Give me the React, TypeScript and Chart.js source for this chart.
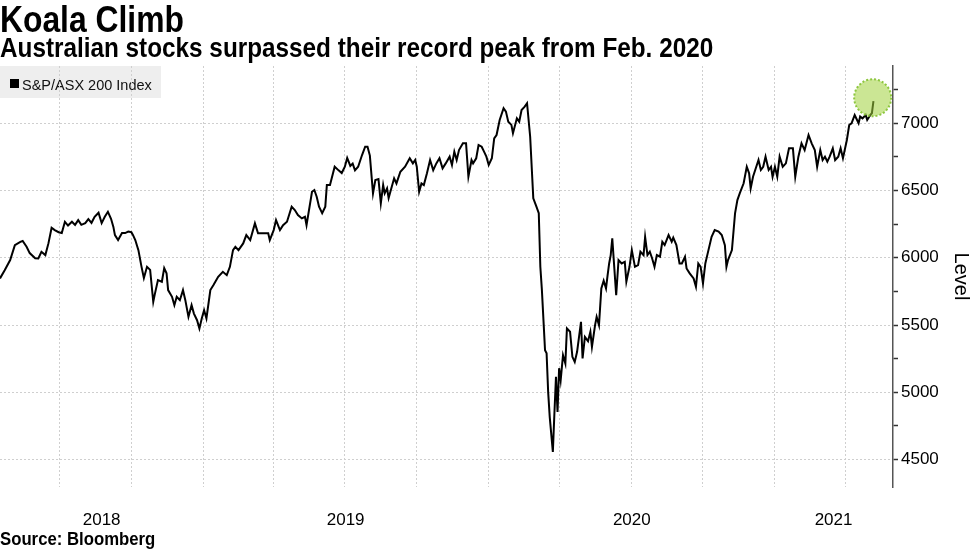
import React, { useEffect, useRef } from 'react';
import { Chart, registerables } from 'chart.js';

Chart.register(...registerables);

// x values: days relative to 2019-01-01
const dayOffsets = [
  -260, -254, -247, -241, -234, -231, -226, -222, -215, -211, -207, -202, -198, -194, -190, -185, -181, -177, -173, -168,
  -164, -160, -156, -151, -147, -143, -139, -134, -130, -126, -122, -118, -115, -113, -109, -104, -100, -96, -92, -90,
  -87, -83, -79, -76, -72, -68, -64, -62, -58, -53, -50, -47, -45, -40, -37, -34, -30, -26, -23, -19,
  -15, -12, -8, -5, -2, 1, 4, 9, 13, 19, 25, 30, 34, 38, 41, 45, 51, 55, 60, 66,
  70, 77, 83, 85, 90, 93, 98, 102, 107, 113, 117, 121, 126, 130, 132, 139, 142, 145, 148, 152,
  156, 158, 162, 168, 173, 177, 181, 184, 188, 191, 194, 198, 203, 207, 210, 213, 217, 220, 224, 227,
  230, 232, 235, 237, 241, 244, 247, 252, 258, 264, 268, 271, 273, 276, 279, 282, 286, 290, 294, 298,
  302, 306, 310, 315, 318, 321, 324, 327, 332, 336, 339, 343, 345, 349, 352, 356, 359, 362, 365, 369,
  372, 375, 379, 384, 387, 390, 394, 396, 401, 404, 407, 411, 414, 418, 422, 426, 429, 431, 433, 435,
  437, 439, 441, 443, 447, 449, 451, 453, 455, 457, 460, 463, 465, 469, 472, 475, 478, 483, 485, 488,
  492, 495, 497, 501, 503, 506, 509, 512, 515, 517, 519, 521, 523, 528, 531, 535, 539, 541, 545, 548,
  552, 556, 559, 563, 565, 568, 571, 574, 577, 580, 584, 587, 590, 595, 599, 601, 605, 609, 612, 616,
  618, 622, 627, 630, 633, 636, 639, 642, 646, 650, 654, 659, 663, 667, 669, 671, 676, 680, 683, 686,
  691, 695, 698, 700, 703, 710, 713, 716, 719, 723, 726, 728, 731, 734, 737, 741, 745, 749, 754, 757,
  761, 765, 769, 774, 778, 782, 785, 789, 792, 795, 798, 801, 805, 808, 812, 815, 818, 823, 826, 829,
  833, 838, 840, 843, 847, 849, 853, 855, 857,
];

const indexLevels = [
  5847, 5908, 5983, 6094, 6119, 6125, 6082, 6035, 5997, 5995, 6045, 6020, 6109, 6223, 6206, 6190, 6184, 6268, 6240, 6268,
  6245, 6280, 6245, 6258, 6288, 6260, 6305, 6335, 6258, 6305, 6342, 6290, 6230, 6169, 6132, 6184, 6184, 6195, 6190, 6170,
  6132, 6057, 5933, 5849, 5933, 5910, 5673, 5730, 5834, 5822, 5923, 5885, 5760, 5710, 5648, 5710, 5685, 5760, 5685, 5561,
  5648, 5585, 5536, 5475, 5549, 5611, 5549, 5760, 5797, 5859, 5896, 5871, 5933, 6057, 6082, 6057, 6107, 6169, 6132, 6256,
  6182, 6182, 6182, 6132, 6206, 6280, 6206, 6243, 6268, 6380, 6355, 6318, 6293, 6305, 6243, 6491, 6504, 6454, 6380, 6332,
  6380, 6541, 6541, 6677, 6650, 6630, 6677, 6742, 6683, 6700, 6650, 6677, 6764, 6826, 6826, 6760, 6479, 6578, 6585, 6405,
  6541, 6479, 6516, 6444, 6528, 6591, 6553, 6640, 6677, 6740, 6702, 6727, 6677, 6491, 6553, 6541, 6628, 6727, 6652, 6702,
  6740, 6665, 6702, 6752, 6690, 6789, 6727, 6801, 6851, 6851, 6603, 6727, 6702, 6740, 6839, 6826, 6789, 6752, 6690, 6740,
  6888, 6913, 7025, 7112, 7087, 7012, 6988, 6926, 7037, 7012, 7099, 7124, 7149, 6900, 6442, 6380, 6332, 5933, 5760, 5537,
  5313, 5290, 5003, 4817, 4557, 4844, 5115, 4854, 5179, 5090, 5276, 5214, 5475, 5450, 5264, 5226, 5301, 5524, 5252, 5412,
  5380, 5450, 5338, 5500, 5561, 5500, 5772, 5830, 5772, 5870, 5958, 6020, 6144, 5722, 5983, 5958, 5970, 5822, 5933, 6057,
  5933, 5945, 6045, 6020, 6156, 6020, 6045, 5995, 5933, 6020, 6008, 6119, 6095, 6169, 6120, 6150, 6095, 5958, 5958, 6008,
  5921, 5884, 5847, 5785, 5958, 5933, 5810, 5958, 6057, 6156, 6206, 6195, 6169, 6094, 5933, 5983, 6057, 6330, 6429, 6479,
  6554, 6677, 6628, 6516, 6603, 6727, 6653, 6677, 6752, 6653, 6677, 6603, 6677, 6603, 6752, 6677, 6702, 6814, 6814, 6603,
  6752, 6851, 6801, 6913, 6851, 6801, 6677, 6801, 6727, 6752, 6715, 6752, 6814, 6727, 6752, 6814, 6740, 6876, 6987, 7000,
  7062, 7000, 7050, 7037, 7062, 7025, 7062, 7075, 7165,
];

const seriesName = 'S&P/ASX 200 Index';
const quarterStartDays = [-184, -92, 0, 90, 181, 273, 365, 456, 547, 639, 731, 821];
const yearLabels = ['2018', '2019', '2020', '2021'];
const yearLabelDays = [-130, 182, 548, 806];
const levelTickValues = [4500, 5000, 5500, 6000, 6500, 7000];
const minorLevelTickValues = [4750, 5250, 5750, 6250, 6750, 7250];
const xRange = [-260, 882];
const yRange = [4296, 7426];
const highlightDay = 856;
const highlightLevel = 7190;

const TITLE_FONT = '"Liberation Sans", Arial, sans-serif';
const BODY_FONT = '"Liberation Sans", Arial, sans-serif';

export default function App() {
  const canvasRef = useRef<HTMLCanvasElement>(null);

  useEffect(() => {
    const canvas = canvasRef.current;
    if (!canvas) return;
    const points = dayOffsets.map((d, i) => ({ x: d, y: indexLevels[i] }));
    const xTicks = [...quarterStartDays, ...yearLabelDays].sort((a, b) => a - b);
    const yTicks = [...levelTickValues, ...minorLevelTickValues].sort((a, b) => a - b);

    const decor = {
      id: 'decor',
      beforeDraw(chart: any) {
        const ctx = chart.ctx as CanvasRenderingContext2D;
        ctx.save();
        ctx.fillStyle = '#eeeeee';
        ctx.fillRect(0, 66, 161, 32);
        ctx.fillStyle = '#000';
        ctx.fillRect(10, 79, 9, 9);
        ctx.font = '14.5px "Liberation Sans", Arial, sans-serif';
        ctx.textBaseline = 'alphabetic';
        ctx.textAlign = 'left';
        ctx.fillStyle = '#111';
        ctx.fillText(seriesName, 22, 90);
        ctx.restore();
      },
      afterDatasetsDraw(chart: any) {
        const ctx = chart.ctx as CanvasRenderingContext2D;
        const cx = chart.scales.x.getPixelForValue(highlightDay);
        const cy = chart.scales.y.getPixelForValue(highlightLevel);
        ctx.save();
        ctx.beginPath();
        ctx.arc(cx, cy, 18.5, 0, Math.PI * 2);
        ctx.fillStyle = 'rgba(160,210,60,0.55)';
        ctx.fill();
        ctx.setLineDash([2, 2]);
        ctx.lineWidth = 2;
        ctx.strokeStyle = '#8dc63f';
        ctx.stroke();
        ctx.restore();
      },
    };

    const chart = new Chart(canvas, {
      type: 'line',
      data: {
        datasets: [
          {
            label: seriesName,
            data: points,
            borderColor: '#000',
            borderWidth: 2,
            pointRadius: 0,
            tension: 0,
            fill: false,
          },
        ],
      },
      options: {
        animation: false,
        responsive: false,
        layout: { padding: { top: 66, left: 0, right: 0, bottom: 0 } },
        plugins: {
          legend: { display: false },
          tooltip: { enabled: false },
          title: { display: false },
        },
        scales: {
          x: {
            type: 'linear',
            position: 'bottom',
            min: xRange[0],
            max: xRange[1],
            afterBuildTicks: (s: any) => {
              s.ticks = xTicks.map((v) => ({ value: v }));
            },
            afterFit: (s: any) => {
              s.height = 62;
            },
            grid: {
              color: (c: any) => (c.tick && quarterStartDays.includes(c.tick.value) ? '#cfcfcf' : 'rgba(0,0,0,0)'),
              lineWidth: 1,
              drawTicks: false,
            },
            border: { display: false, dash: [2, 2] },
            ticks: {
              autoSkip: false,
              maxRotation: 0,
              minRotation: 0,
              padding: 23,
              color: '#000',
              font: { family: BODY_FONT, size: 17 },
              callback: (v: any) => {
                const i = yearLabelDays.indexOf(Number(v));
                return i >= 0 ? yearLabels[i] : '';
              },
            },
          },
          y: {
            type: 'linear',
            position: 'right',
            min: yRange[0],
            max: yRange[1],
            afterBuildTicks: (s: any) => {
              s.ticks = yTicks.map((v) => ({ value: v }));
            },
            afterFit: (s: any) => {
              s.width = 84;
            },
            grid: {
              color: (c: any) => (c.tick && levelTickValues.includes(c.tick.value) ? '#cfcfcf' : 'rgba(0,0,0,0)'),
              lineWidth: 1,
              drawTicks: true,
              tickLength: 5,
              tickWidth: 1.5,
              tickColor: '#333',
            },
            border: { display: true, color: '#555', width: 1.5, dash: [2, 2] },
            ticks: {
              autoSkip: false,
              padding: 3,
              color: '#000',
              font: { family: BODY_FONT, size: 17 },
              callback: (v: any) => (levelTickValues.includes(Number(v)) ? String(v) : ''),
            },
            title: {
              display: true,
              text: 'Level',
              color: '#000',
              font: { family: BODY_FONT, size: 20 },
              padding: { top: 4, bottom: 4 },
            },
          },
        },
      } as any,
      plugins: [decor],
    });
    return () => chart.destroy();
  }, []);

  const textBase: React.CSSProperties = {
    position: 'absolute',
    left: 0,
    fontFamily: TITLE_FONT,
    fontWeight: 'bold',
    color: '#000',
    whiteSpace: 'nowrap',
    transformOrigin: '0 0',
  };

  return (
    <div style={{ position: 'absolute', left: 0, top: 0, width: 977, height: 549, background: '#fff', overflow: 'hidden' }}>
      <canvas ref={canvasRef} width={977} height={549} style={{ position: 'absolute', left: 0, top: 0, width: 977, height: 549 }} />
      <div style={{ ...textBase, top: 1, fontSize: 37, lineHeight: '37px', transform: 'scaleX(0.86)' }}>
        Koala Climb
      </div>
      <div style={{ ...textBase, top: 34, fontSize: 28, lineHeight: '28px', transform: 'scaleX(0.868)' }}>
        Australian stocks surpassed their record peak from Feb. 2020
      </div>
      <div style={{ ...textBase, top: 530, fontSize: 18, lineHeight: '18px', transform: 'scaleX(0.93)' }}>
        Source: Bloomberg
      </div>
    </div>
  );
}
